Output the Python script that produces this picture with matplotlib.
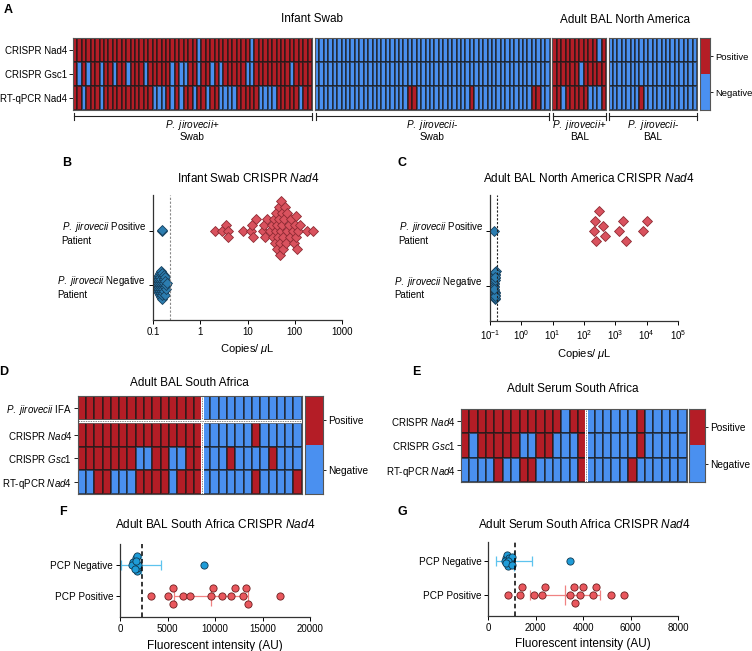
import numpy as np
import matplotlib
matplotlib.use("Agg")
import matplotlib.pyplot as plt
from matplotlib.colors import ListedColormap

plt.rcParams['font.family'] = 'Liberation Sans'
plt.rcParams['mathtext.fontset'] = 'custom'
plt.rcParams['mathtext.rm'] = 'Liberation Sans'
plt.rcParams['mathtext.it'] = 'Liberation Sans:italic'
plt.rcParams['font.size'] = 7

## ---- data ----
# panel A, 1 = positive, 0 = negative (rows: CRISPR Nad4, CRISPR Gsc1, RT-qPCR Nad4)
swab_pos = ["1111111111 1111111111 1111111101 1111111111 0111111111 1111",
            "1010110110 1101110111 1101001101 1010111110 0111111110 1111",
            "1101110111 1111111100 0101011011 0110000111 1100001111 1011"]
swab_neg = ["0000000000 0000000000 0000000000 0000000000 0000000000 000",
            "0000000000 0000000000 0000000000 0000000000 0000000000 000",
            "0000000000 0000000000 0110000000 0000010000 0000000001 100"]
bal_na_pos = ["1111111111 01",
              "1111110111 11",
              "1101111100 01"]
bal_na_neg = ["0000000000 0000000000",
              "0000000000 0000000000",
              "0000000100 0000000000"]
heat_rows_a = ["CRISPR Nad4", "CRISPR Gsc1", "RT-qPCR Nad4"]

# panel B, copies/uL
swab_b_pos = [2.1, 2.9, 3.5, 3.8, 3.9, 8.2, 11.8, 12.5, 13.3, 15.0, 21.0, 22.5, 24.0,
              25.5, 30.0, 33.0, 34.0, 36.0, 38.0, 40.0, 41.0, 42.0, 43.0, 44.5, 46.0,
              47.0, 48.0, 49.0, 50.0, 52.0, 53.0, 55.0, 56.0, 57.0, 59.0, 62.0, 65.0,
              68.0, 70.0, 75.0, 80.0, 85.0, 90.0, 95.0, 100.0, 104.0, 108.0, 113.0,
              120.0, 128.0, 180.0, 245.0]
swab_b_pos_nd = [0.155, 0.158]
swab_b_neg = [0.112, 0.115, 0.118, 0.12, 0.121, 0.123, 0.125, 0.126, 0.128, 0.13,
              0.131, 0.132, 0.133, 0.135, 0.136, 0.137, 0.138, 0.14, 0.141, 0.142,
              0.143, 0.144, 0.145, 0.146, 0.147, 0.148, 0.149, 0.15, 0.151, 0.152,
              0.153, 0.154, 0.155, 0.156, 0.157, 0.158, 0.16, 0.161, 0.162, 0.164,
              0.165, 0.167, 0.168, 0.17, 0.172, 0.174, 0.176, 0.178, 0.18, 0.183,
              0.186, 0.19, 0.2]
swab_b_cutoff = 0.23

# panel C
bal_c_pos = [235, 208, 457, 1800, 7640, 219, 394, 1309, 2244, 10500, 301]
bal_c_pos_nd = [0.135]
bal_c_neg = [0.135, 0.14, 0.145, 0.138, 0.142, 0.15, 0.136, 0.144, 0.139, 0.147,
             0.141, 0.137, 0.143, 0.148, 0.14, 0.146, 0.139, 0.142, 0.145, 0.138]
bal_c_cutoff = 0.17

# panel D (rows: IFA, CRISPR Nad4, CRISPR Gsc1, RT-qPCR Nad4)
bal_sa = ["111111111111111 000000000000",
          "111111111111111 000000100000",
          "111111100110011 000100001000",
          "001100011110111 000000100001"]
PJ = r"$\mathit{P.}$ $\mathit{jirovecii}$"
heat_rows_d = [PJ + " IFA", r"CRISPR $\mathit{Nad4}$",
               r"CRISPR $\mathit{Gsc1}$", r"RT-qPCR $\mathit{Nad4}$"]

# panel E
serum_sa = ["111111111111011 000000100000",
            "101111100110001 000000100000",
            "000010011000001 000001000000"]
heat_rows_e = heat_rows_d[1:]

# panel F, fluorescent intensity
bal_f_neg = [1750, 1600, 1800, 1550, 1350, 1700, 1900, 1300, 1750, 1550, 1650, 8840]
bal_f_pos = [3260, 5090, 5540, 5550, 6670, 7370, 9540, 9750, 10740, 11650, 12140,
             12980, 13260, 13440, 16840]
bal_f_cutoff = 2300

# panel G
serum_g_neg = [750, 800, 880, 950, 700, 900, 980, 820, 850, 760, 1000, 3440]
serum_g_pos = [810, 1350, 1420, 1920, 2250, 2390, 3440, 3620, 3660, 3860, 4000,
               4390, 4530, 5180, 5710]
serum_g_cutoff = 1140

## ---- styling ----
RED = '#B41D26'
BLUE = '#4A90F0'
cmap = ListedColormap([BLUE, RED])
EDGE = (0.1, 0.1, 0.1, 0.6)

W, H = 752, 651
fig = plt.figure(figsize=(W/100, H/100), dpi=100)


def px_axes(x0, y0, x1, y1):
    return fig.add_axes([x0/W, 1 - y1/H, (x1 - x0)/W, (y1 - y0)/H])


def ftext(x, y, s, **kw):
    kw.setdefault('ha', 'center')
    kw.setdefault('va', 'center')
    fig.text(x/W, 1 - y/H, s, **kw)


def grid(strs):
    return np.array([[int(c) for c in s.replace(' ', '')] for s in strs], dtype=float)


def heat(ax, Z, labels=None, yedges=None, yticks=None):
    if yedges is None:
        ax.pcolormesh(Z, cmap=cmap, vmin=0, vmax=1, edgecolors=EDGE, linewidth=0.3)
        ax.set_ylim(Z.shape[0], 0)
        yticks = np.arange(Z.shape[0]) + 0.5
    else:
        ax.pcolormesh(np.arange(Z.shape[1] + 1), yedges, Z, cmap=cmap, vmin=0, vmax=1,
                      edgecolors=EDGE, linewidth=0.3)
        ax.set_ylim(yedges[-1], 0)
    ax.set_xlim(0, Z.shape[1])
    ax.set_xticks([])
    if labels:
        ax.set_yticks(yticks, labels)
        ax.tick_params(axis='y', length=3, width=0.6, pad=1, labelsize=7)
    else:
        ax.set_yticks([])
    for s in ax.spines.values():
        s.set_linewidth(0.8)
        s.set_color('#555')


def cbar(ax, size=7.3):
    ax.pcolormesh(np.array([[1.0], [0.0]]), cmap=cmap, vmin=0, vmax=1)
    ax.set_ylim(2, 0)
    ax.set_xticks([])
    ax.yaxis.tick_right()
    ax.set_yticks([0.5, 1.5], ["Positive", "Negative"])
    ax.tick_params(axis='y', length=2.2, width=0.6, pad=1.5, labelsize=size)
    for s in ax.spines.values():
        s.set_linewidth(0.8)
        s.set_color('#555')


def swarm(ax, xs, y0, gap, step):
    # vertical offsets (in pixels) so that points do not pile up
    xs = np.asarray(xs, dtype=float)
    px = ax.transData.transform(np.column_stack([xs, np.full(len(xs), y0)]))[:, 0]
    off = np.zeros(len(xs))
    px_done, py_done = [], []
    for i in np.argsort(px):
        for k in range(400):
            c = ((k + 1) // 2) * step * (1 if k % 2 else -1)
            if all((px[i] - a)**2 + (c - b)**2 >= gap**2 for a, b in zip(px_done, py_done)):
                break
        off[i] = c
        px_done.append(px[i])
        py_done.append(c)
    y0_px = ax.transData.transform((xs[0], y0))[1]
    y1_px = ax.transData.transform((xs[0], y0 + 1))[1]
    return y0 + off / (y1_px - y0_px)


def clean(ax):
    ax.spines['top'].set_visible(False)
    ax.spines['right'].set_visible(False)
    for s in ('left', 'bottom'):
        ax.spines[s].set_linewidth(0.9)
        ax.spines[s].set_color('#333')
    ax.tick_params(length=3, width=0.7, labelsize=7, pad=2)
    ax.minorticks_off()


## ---- panel A ----
sections = [(swab_pos, 73, 312), (swab_neg, 315, 549.5), (bal_na_pos, 552.3, 606), (bal_na_neg, 608.5, 697)]
for i, (data, x0, x1) in enumerate(sections):
    ax = px_axes(x0, 38, x1, 110)
    heat(ax, grid(data), heat_rows_a if i == 0 else None)
cbar(px_axes(700, 38, 710, 110), size=6.8)

ftext(8, 10, "A", fontsize=9, fontweight='bold')
ftext(312, 19, "Infant Swab", fontsize=8.5)
ftext(625, 20, "Adult BAL North America", fontsize=8.5)

# brackets under the groups
ax0 = fig.add_axes([0, 0, 1, 1])
ax0.set_xlim(0, W)
ax0.set_ylim(H, 0)
ax0.axis('off')
bracket_labels = [PJ + "+", PJ + "-", PJ + "+", PJ + "-"]
bracket_sub = ["Swab", "Swab", "BAL", "BAL"]
for (data, x0, x1), lab, sub in zip(sections, bracket_labels, bracket_sub):
    ax0.plot([x0 + 0.5, x1 - 0.5], [116, 116], color='#222', lw=0.8)
    ax0.plot([x0 + 0.5, x0 + 0.5], [113, 119.5], color='#222', lw=0.8)
    ax0.plot([x1 - 0.5, x1 - 0.5], [113, 119.5], color='#222', lw=0.8)
    ftext((x0 + x1) / 2, 125.5, lab, fontsize=7.2)
    ftext((x0 + x1) / 2, 137.5, sub, fontsize=7.2)

## ---- panels B and C ----
def copies_panel(ax, pos, pos_nd, neg, cutoff, xlim, cut_style, gaps):
    ax.set_xscale('log')
    ax.set_xlim(*xlim)
    ax.set_ylim(-0.648, 1.667)
    clean(ax)
    kw = dict(marker='D', ls='none', ms=4.6, mew=0.6)
    yp = swarm(ax, pos, 1, gaps[0], gaps[1])
    ax.plot(pos, yp, mfc='#D9525E', mec='#8E2A33', **kw)
    ax.plot(pos_nd, swarm(ax, pos_nd, 1, 1.5, 1.5), mfc='#2C7DB0', mec='#173F5C', **kw)
    ax.plot(neg, swarm(ax, neg, 0, gaps[2], gaps[3]), mfc='#2C7DB0', mec='#173F5C', **kw)
    ax.axvline(cutoff, **cut_style)
    ax.set_yticks([1, 0], [PJ + " Positive\nPatient", PJ + " Negative\nPatient"])
    for t in ax.get_yticklabels():
        t.set_multialignment('left')
    ax.set_xlabel(r"Copies/ $\mu$L", fontsize=8, labelpad=4)


axB = px_axes(153, 195, 342, 320)
copies_panel(axB, swab_b_pos, swab_b_pos_nd, swab_b_neg, swab_b_cutoff, (0.1, 1000),
             dict(color='#888', ls=(0, (2, 1.5)), lw=0.8), (5.0, 3.0, 2.0, 1.0))
axB.set_xticks([0.1, 1, 10, 100, 1000], ["0.1", "1", "10", "100", "1000"])
ftext(67, 163, "B", fontsize=9, fontweight='bold')
ftext(248, 178, r"Infant Swab CRISPR $\mathit{Nad4}$", fontsize=8.5)

axC = px_axes(490, 195, 678, 321)
copies_panel(axC, bal_c_pos, bal_c_pos_nd, bal_c_neg, bal_c_cutoff, (0.1, 1e5),
             dict(color='#222', ls=(0, (2, 1.5)), lw=0.8), (9.0, 5.0, 1.5, 1.5))
axC.set_xticks([10.0**k for k in range(-1, 6)],
               [r"$10^{%d}$" % k for k in range(-1, 6)])
ftext(402, 163, "C", fontsize=9, fontweight='bold')
ftext(589, 178, r"Adult BAL North America CRISPR $\mathit{Nad4}$", fontsize=8.5)

## ---- panel D ----
Zd = grid(bal_sa)
Zd = np.vstack([Zd[:1], np.full((1, Zd.shape[1]), np.nan), Zd[1:]])
Zd = np.ma.masked_invalid(Zd)
yed = np.array([0, 1, 1.13, 2.13, 3.13, 4.13])
axD = px_axes(77.7, 395.7, 301.7, 494.3)
heat(axD, Zd, heat_rows_d, yed, [0.5, 1.63, 2.63, 3.63])
axD.axvline(15, color='white', lw=2.2)
axD.axvline(15, color='#888', lw=0.7, ls=(0, (1.5, 1)))
axD.axhline(1.065, color='white', lw=2.5)
axD.axhline(1.065, color='#888', lw=0.7, ls=(0, (1.5, 1)))
cbar(px_axes(305, 395.7, 322.7, 494.3))
ftext(4, 372, "D", fontsize=9, fontweight='bold')
ftext(189, 383, "Adult BAL South Africa", fontsize=8.5)

## ---- panel E ----
axE = px_axes(461, 409.3, 686.7, 481.7)
heat(axE, grid(serum_sa), heat_rows_e)
axE.axvline(15, color='white', lw=2.2)
axE.axvline(15, color='#888', lw=0.7, ls=(0, (1.5, 1)))
cbar(px_axes(689, 409.3, 705, 481.7))
ftext(416, 372, "E", fontsize=9, fontweight='bold')
ftext(573, 389, "Adult Serum South Africa", fontsize=8.5)

## ---- panels F and G ----
def intensity_panel(ax, neg, pos, cutoff, xmax, step, ylim):
    ax.set_xlim(0, xmax)
    ax.set_ylim(*ylim)
    clean(ax)
    for vals, y, fc, ec, lc, gap in [(neg, 1, '#1E9CD8', '#10374F', '#5EC3EE', 2.6),
                                     (pos, 0, '#E9575D', '#6B1E1E', '#F08282', 6.5)]:
        m, sd = np.mean(vals), np.std(vals, ddof=1)
        ax.errorbar(m, y, xerr=sd, color=lc, lw=0.9, capsize=3.6, capthick=0.9, zorder=2)
        ax.plot(m, y, marker='|', ms=14, mew=0.9, color=lc, zorder=2)
        ax.plot(vals, swarm(ax, vals, y, gap, gap / 2 if y == 1 else 8),
                marker='o', ls='none', ms=5.2, mfc=fc, mec=ec, mew=0.6, zorder=3)
    ax.axvline(cutoff, color='black', ls=(0, (3, 2)), lw=1.1, zorder=4)
    ax.set_xticks(np.arange(0, xmax + 1, step))
    ax.set_yticks([1, 0], ["PCP Negative", "PCP Positive"])
    ax.tick_params(axis='y', labelsize=7.2)
    ax.set_xlabel("Fluorescent intensity (AU)", fontsize=8.5, labelpad=4)


axF = px_axes(120, 544, 310, 617)
intensity_panel(axF, bal_f_neg, bal_f_pos, bal_f_cutoff, 20000, 5000, (-0.677, 1.677))
ftext(63, 512, "F", fontsize=9, fontweight='bold')
ftext(215, 525, r"Adult BAL South Africa CRISPR $\mathit{Nad4}$", fontsize=8.5)

axG = px_axes(488.3, 542, 678.3, 615.7)
intensity_panel(axG, serum_g_neg, serum_g_pos, serum_g_cutoff, 8000, 2000, (-0.603, 1.545))
ftext(402, 512, "G", fontsize=9, fontweight='bold')
ftext(584, 525, r"Adult Serum South Africa CRISPR $\mathit{Nad4}$", fontsize=8.5)

fig.savefig("out.png", dpi=100)
